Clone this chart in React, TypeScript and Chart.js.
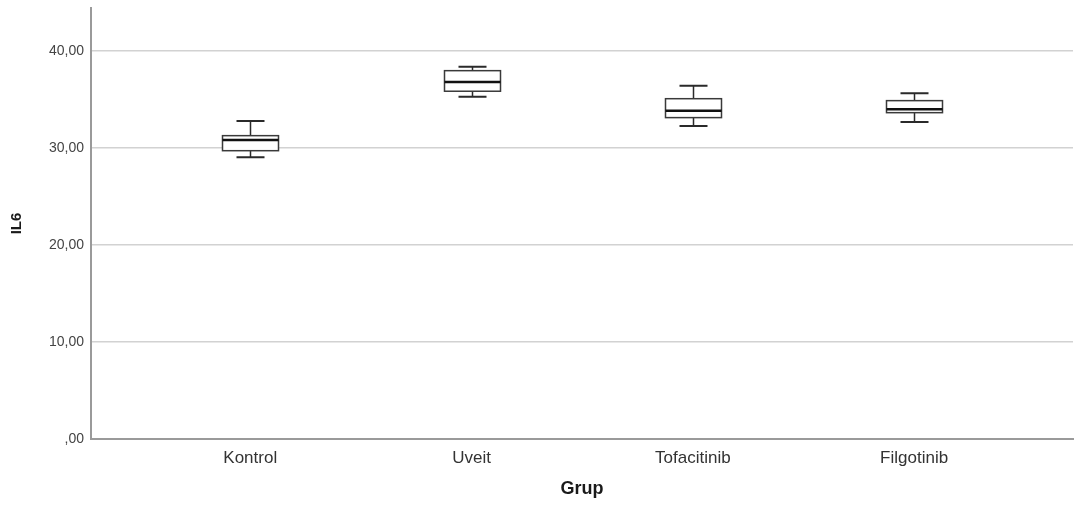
import React, { useEffect, useRef } from "react";
import { Chart, registerables } from "chart.js";

Chart.register(...registerables);

const categories = ["Kontrol", "Uveit", "Tofacitinib", "Filgotinib"];
const whiskerMin = [29.04, 35.29, 32.27, 32.68];
const q1 = [29.72, 35.85, 33.13, 33.64];
const median = [30.82, 36.8, 33.85, 33.99];
const q3 = [31.27, 37.97, 35.08, 34.88];
const whiskerMax = [32.78, 38.38, 36.42, 35.64];
const yTicks = [0, 10, 20, 30, 40];

const boxPlugin = {
  id: "boxplotDraw",
  afterDatasetsDraw(chart: any) {
    const { ctx, scales } = chart;
    const xs = scales.x;
    const ys = scales.y;
    const half = 28;
    const cap = 14;
    ctx.save();
    categories.forEach((_, i) => {
      const cx = Math.round(xs.getPixelForValue(i)) + 0.5;
      const yMin = ys.getPixelForValue(whiskerMin[i]);
      const yQ1 = ys.getPixelForValue(q1[i]);
      const yMed = ys.getPixelForValue(median[i]);
      const yQ3 = ys.getPixelForValue(q3[i]);
      const yMax = ys.getPixelForValue(whiskerMax[i]);
      ctx.strokeStyle = "#2a2a2a";
      ctx.lineWidth = 1.5;
      ctx.beginPath();
      ctx.moveTo(cx, yMax);
      ctx.lineTo(cx, yQ3);
      ctx.moveTo(cx, yQ1);
      ctx.lineTo(cx, yMin);
      ctx.stroke();
      ctx.lineWidth = 2;
      ctx.beginPath();
      ctx.moveTo(cx - cap, yMax);
      ctx.lineTo(cx + cap, yMax);
      ctx.moveTo(cx - cap, yMin);
      ctx.lineTo(cx + cap, yMin);
      ctx.stroke();
      ctx.fillStyle = "#ffffff";
      ctx.fillRect(cx - half, yQ3, half * 2, yQ1 - yQ3);
      ctx.lineWidth = 1.5;
      ctx.strokeStyle = "#3a3a3a";
      ctx.strokeRect(cx - half, yQ3, half * 2, yQ1 - yQ3);
      ctx.lineWidth = 2.5;
      ctx.strokeStyle = "#111111";
      ctx.beginPath();
      ctx.moveTo(cx - half, yMed);
      ctx.lineTo(cx + half, yMed);
      ctx.stroke();
    });
    ctx.restore();
  },
};

export default function App() {
  const ref = useRef<HTMLCanvasElement | null>(null);
  useEffect(() => {
    if (!ref.current) return;
    const chart = new Chart(ref.current, {
      type: "scatter",
      data: {
        datasets: [
          {
            data: median.map((m, i) => ({ x: i, y: m })),
            pointRadius: 0,
            showLine: false,
          },
        ],
      },
      options: {
        animation: false,
        responsive: true,
        maintainAspectRatio: false,
        layout: { padding: { top: 8, right: 2, left: 0, bottom: 0 } },
        plugins: { legend: { display: false }, tooltip: { enabled: false } },
        scales: {
          x: {
            type: "linear",
            min: -0.7197,
            max: 3.718,
            afterBuildTicks: (s: any) => {
              s.ticks = categories.map((_, i) => ({ value: i }));
            },
            afterFit: (s: any) => {
              s.height = 73;
              s.paddingLeft = 0;
              s.paddingRight = 0;
            },
            grid: { display: false, drawTicks: false },
            border: { display: true, color: "#9a9a9a", width: 2 },
            ticks: {
              padding: 9,
              autoSkip: false,
              maxRotation: 0,
              color: "#333333",
              font: { family: "'Liberation Sans', Arial, sans-serif", size: 17 },
              callback: (v: any) => categories[v] ?? "",
            },
            title: {
              display: true,
              text: "Grup",
              color: "#1a1a1a",
              padding: { top: 0, bottom: 12 },
              font: { family: "'Liberation Sans', Arial, sans-serif", size: 18, weight: "bold" },
            },
          },
          y: {
            type: "linear",
            min: 0,
            max: 44.43,
            afterBuildTicks: (s: any) => {
              s.ticks = yTicks.map((v) => ({ value: v }));
            },
            afterFit: (s: any) => {
              s.width = 91;
              s.paddingTop = 0;
              s.paddingBottom = 0;
            },
            grid: { color: "#d2d2d2", lineWidth: 1.5, drawTicks: false },
            border: { display: true, color: "#9a9a9a", width: 2 },
            ticks: {
              padding: 7,
              color: "#444444",
              font: { family: "'Liberation Sans', Arial, sans-serif", size: 14 },
              callback: (v: any) =>
                v === 0 ? ",00" : Number(v).toFixed(2).replace(".", ","),
            },
            title: {
              display: true,
              text: "IL6",
              color: "#1a1a1a",
              padding: { top: 8, bottom: 0 },
              font: { family: "'Liberation Sans', Arial, sans-serif", size: 15, weight: "bold" },
            },
          },
        },
      },
      plugins: [boxPlugin],
    });
    return () => chart.destroy();
  }, []);
  return (
    <div
      style={{
        position: "absolute",
        left: 0,
        top: 0,
        width: 1075,
        height: 512,
        background: "#ffffff",
      }}
    >
      <canvas ref={ref} />
    </div>
  );
}
